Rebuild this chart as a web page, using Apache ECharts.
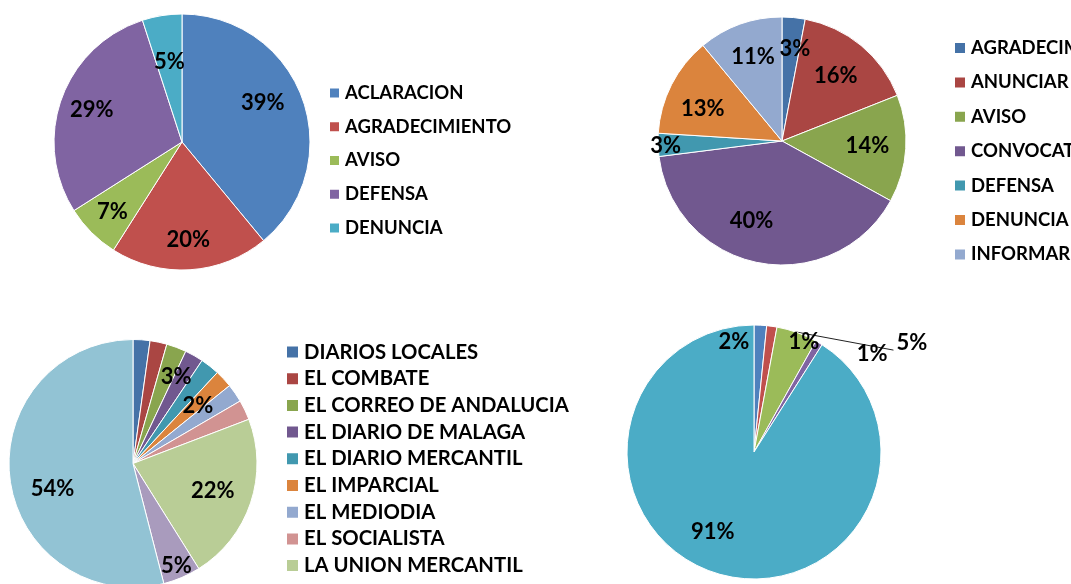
<!DOCTYPE html>
<html>
<head>
<meta charset="utf-8">
<title>Distribución por tipo y por diario</title>
<script src="https://cdn.jsdelivr.net/npm/echarts@6/dist/echarts.min.js"></script>
<style>
html, body { margin: 0; padding: 0; background: #fff; overflow: hidden; }
.chart { position: absolute; }
</style>
</head>
<body>
<div id="c1" class="chart" style="left:0;top:0;width:640px;height:290px"></div>
<div id="c2" class="chart" style="left:640px;top:0;width:431px;height:290px"></div>
<div id="c3" class="chart" style="left:0;top:290px;width:600px;height:294px"></div>
<div id="c4" class="chart" style="left:600px;top:290px;width:471px;height:294px"></div>
<script>
// ---- datos ----
var tiposA = ['ACLARACION', 'AGRADECIMIENTO', 'AVISO', 'DEFENSA', 'DENUNCIA'];
var valoresA = [39, 20, 7, 29, 5];

var tiposB = ['AGRADECIMIENTO', 'ANUNCIAR', 'AVISO', 'CONVOCATORIA', 'DEFENSA', 'DENUNCIA', 'INFORMAR'];
var valoresB = [3, 16, 14, 40, 3, 13, 11];

var diarios = ['DIARIOS LOCALES', 'EL COMBATE', 'EL CORREO DE ANDALUCIA', 'EL DIARIO DE MALAGA',
  'EL DIARIO MERCANTIL', 'EL IMPARCIAL', 'EL MEDIODIA', 'EL SOCIALISTA', 'LA UNION MERCANTIL',
  'OTROS', 'NO CONSTA'];
var valoresC = [2.2, 2.2, 2.6, 2.4, 2.5, 2.3, 2.4, 2.6, 21.9, 4.9, 54];

var gruposD = ['GRUPO 1', 'GRUPO 2', 'GRUPO 3', 'GRUPO 4', 'GRUPO 5'];
var valoresD = [1.6, 1.3, 5.2, 0.9, 91];

// ---- colores ----
var colClaro = ['#4F81BD', '#C0504D', '#9BBB59', '#8064A2', '#4BACC6'];
var colOscuro = ['#4572A7', '#AA4643', '#89A54E', '#71588F', '#4198AF', '#DB843D',
  '#93A9CF', '#D19392', '#B9CD96', '#A99BBD', '#92C3D4'];

// posicion de cada etiqueta: [fraccion del radio, giro en grados]; null = sin etiqueta
var etqA = [[0.70, -6], [0.77, 0], [0.77, 0], [0.75, 0], [0.63, 0]];
var etqB = [[0.75, 2.6], [0.68, 0], [0.69, 0], [0.69, 10], [0.94, -0.7], [0.69, -5], [0.72, 0.8]];
var etqC = [null, null, [0.78, 6], null, null, [0.70, 1.5], null, null, [0.68, 0.5], [0.90, 0.4], [0.68, -10]];
var etqD = [[0.88, -13.2], [0.95, 16.3], [1.51, 35.6], [1.21, 19.5], [0.71, 11]];

var FUENTE = 'Lato, "Open Sans", sans-serif';

function tarta(id, nombres, valores, colores, etq, cx, cy, r, leyenda, guia) {
  var chart = echarts.init(document.getElementById(id));
  var total = 0;
  valores.forEach(function (v) { total += v; });
  var medios = [], acc = 0;
  valores.forEach(function (v) { medios.push((acc + v / 2) / total * 360); acc += v; });

  var data = nombres.map(function (n, i) {
    var d = { name: n, value: valores[i], itemStyle: { color: colores[i] } };
    if (!etq[i]) d.label = { show: false };
    if (guia === i) {
      d.label = { position: 'outside' };
      d.labelLine = { show: true, length: 8, length2: 8, lineStyle: { color: '#222', width: 1 } };
    }
    return d;
  });

  var series = {
    type: 'pie',
    center: [cx, cy],
    radius: r,
    startAngle: 90,
    clockwise: true,
    avoidLabelOverlap: false,
    percentPrecision: 0,
    silent: true,
    itemStyle: { borderColor: '#fff', borderWidth: 1 },
    label: {
      show: true,
      position: 'inside',
      formatter: '{d}%',
      color: '#000',
      fontFamily: FUENTE,
      fontWeight: 'bold',
      fontSize: 22
    },
    labelLine: { show: false },
    labelLayout: function (p) {
      var e = etq[p.dataIndex];
      if (!e) return;
      var a = (medios[p.dataIndex] + e[1]) * Math.PI / 180;
      var x = cx + e[0] * r * Math.sin(a);
      var y = cy - e[0] * r * Math.cos(a);
      var w = p.labelRect.width;
      var out = {};
      if (p.align === 'left') out.x = x - w / 2;
      else if (p.align === 'right') out.x = x + w / 2;
      else out.x = x;
      out.y = y;
      if (guia === p.dataIndex) {
        var m = (medios[p.dataIndex] - 1) * Math.PI / 180;
        out.labelLinePoints = [
          [cx + r * Math.sin(m), cy - r * Math.cos(m)],
          [x - w / 2 - 3, y + 7]
        ];
      }
      return out;
    },
    data: data
  };

  chart.setOption({
    animation: false,
    legend: {
      orient: 'vertical',
      left: leyenda.left,
      top: leyenda.top,
      height: 400,
      padding: 0,
      icon: 'rect',
      itemWidth: leyenda.icono,
      itemHeight: leyenda.icono,
      itemGap: leyenda.gap,
      selectedMode: false,
      data: leyenda.data || nombres,
      show: leyenda.show !== false,
      textStyle: {
        color: '#000',
        fontFamily: FUENTE,
        fontWeight: 'bold',
        fontSize: leyenda.fs,
        lineHeight: leyenda.lh
      }
    },
    series: [series]
  });
  return chart;
}

tarta('c1', tiposA, valoresA, colClaro, etqA, 182, 142, 128,
  { left: 328, top: 83, icono: 11, gap: 13.75, fs: 18.5, lh: 20 });
tarta('c2', tiposB, valoresB, colOscuro, etqB, 142, 141, 124,
  { left: 313, top: 38, icono: 12, gap: 14.4, fs: 18.5, lh: 20 });
tarta('c3', diarios, valoresC, colOscuro, etqC, 133, 173.5, 124,
  { left: 285, top: 51, icono: 13, gap: 4.7, fs: 20.3, lh: 22, data: diarios.slice(0, 9) });
tarta('c4', gruposD, valoresD, colClaro, etqD, 154, 162, 127,
  { show: false, left: 0, top: 0, icono: 12, gap: 10, fs: 18, lh: 20 }, 2);
</script>
</body>
</html>
